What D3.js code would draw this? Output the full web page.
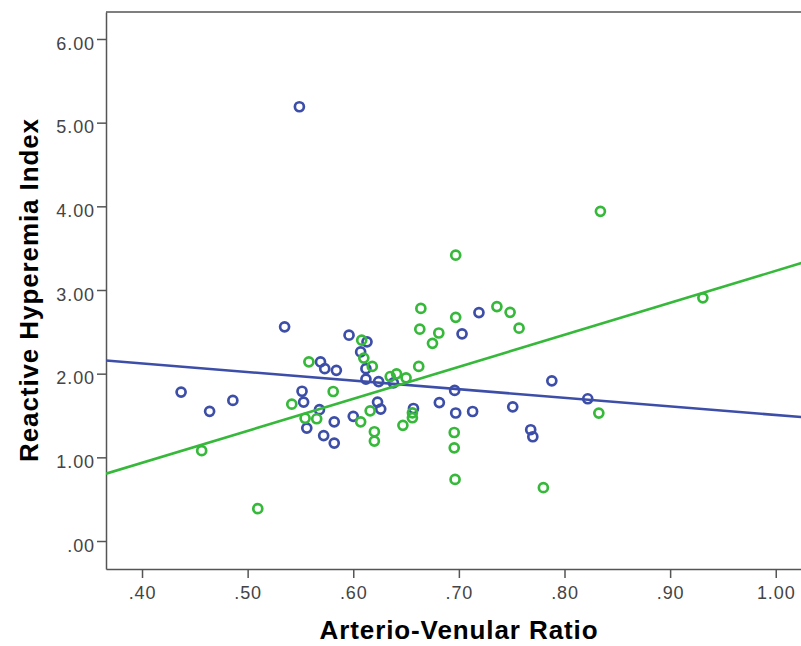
<!DOCTYPE html>
<html>
<head>
<meta charset="utf-8">
<script src="https://cdn.jsdelivr.net/npm/d3@7"></script>
<style>
  body { margin: 0; background: #fff; }
  svg { display: block; font-family: "Liberation Sans", Arial, sans-serif; }
  .tick text { fill: #444; font-size: 18px; letter-spacing: 0.9px; }
  .axis path, .axis line { stroke: #555; stroke-width: 1.5; }
  .title { font-weight: bold; font-size: 26px; fill: #000; letter-spacing: 0.9px; }
</style>
</head>
<body>
<div id="chart"></div>
<script>
// group 1 (blue)
var avrBlue = [0.549, 0.437, 0.464, 0.486, 0.535, 0.5515, 0.553, 0.556, 0.568, 0.572,
  0.582, 0.582, 0.569, 0.573, 0.584, 0.596, 0.613, 0.607, 0.612, 0.612,
  0.624, 0.638, 0.600, 0.623, 0.626, 0.657, 0.6815, 0.697, 0.696, 0.713,
  0.703, 0.719, 0.751, 0.768, 0.770, 0.788, 0.822];
var rhiBlue = [5.19, 1.78, 1.55, 1.68, 2.56, 1.79, 1.66, 1.35, 1.57, 1.26,
  1.425, 1.17, 2.14, 2.06, 2.04, 2.46, 2.38, 2.26, 2.06, 1.935,
  1.906, 1.89, 1.49, 1.66, 1.577, 1.584, 1.655, 1.53, 1.80, 1.548,
  2.476, 2.73, 1.604, 1.33, 1.246, 1.915, 1.70];

// group 2 (green)
var avrGreen = [0.4565, 0.5096, 0.5418, 0.5544, 0.5654, 0.558, 0.581, 0.608, 0.610, 0.618,
  0.607, 0.616, 0.620, 0.620, 0.635, 0.641, 0.650, 0.662, 0.656, 0.656,
  0.647, 0.664, 0.663, 0.681, 0.675, 0.697, 0.697, 0.736, 0.7485, 0.757,
  0.6956, 0.6956, 0.6964, 0.780, 0.834, 0.8325, 0.931];
var rhiGreen = [1.08, 0.386, 1.636, 1.467, 1.461, 2.142, 1.787, 2.40, 2.186, 2.086,
  1.425, 1.556, 1.306, 1.194, 1.966, 1.998, 1.95, 2.086, 1.532, 1.473,
  1.383, 2.78, 2.532, 2.486, 2.363, 2.673, 3.416, 2.802, 2.733, 2.544,
  1.297, 1.114, 0.736, 0.637, 3.94, 1.529, 2.906];

// linear fit lines: [intercept, slope]
var fitBlue = [2.533, -1.027];
var fitGreen = [-0.595, 3.824];

var xTicks = [0.40, 0.50, 0.60, 0.70, 0.80, 0.90, 1.00];
var yTicks = [0, 1, 2, 3, 4, 5, 6];
var xLabel = "Arterio-Venular Ratio";
var yLabel = "Reactive Hyperemia Index";

var blueColor = "#3d4ea8";
var greenColor = "#36b83a";

var svgWidth = 801, svgHeight = 646;
var margin = {top: 12, left: 106, bottom: 77};
var plotRight = 820;

var svg = d3.select("#chart").append("svg")
  .attr("width", svgWidth)
  .attr("height", svgHeight);

var x = d3.scaleLinear()
  .domain([0.3659, 1.0419])
  .range([margin.left, plotRight]);
var y = d3.scaleLinear()
  .domain([-0.3345, 6.3225])
  .range([svgHeight - margin.bottom, margin.top]);

var fmt = function(d) { return d3.format(".2f")(d).replace(/^0\./, "."); };

svg.append("defs").append("clipPath").attr("id", "plotclip")
  .append("rect")
  .attr("x", margin.left).attr("y", margin.top)
  .attr("width", plotRight - margin.left)
  .attr("height", svgHeight - margin.bottom - margin.top);

// top frame line
svg.append("line")
  .attr("x1", margin.left).attr("x2", plotRight)
  .attr("y1", margin.top).attr("y2", margin.top)
  .attr("stroke", "#555").attr("stroke-width", 1.5);

var xAxis = svg.append("g")
  .attr("class", "axis")
  .attr("transform", "translate(0," + (svgHeight - margin.bottom) + ")")
  .call(d3.axisBottom(x).tickValues(xTicks).tickFormat(fmt).tickSize(9).tickPadding(8).tickSizeOuter(0));

var yAxis = svg.append("g")
  .attr("class", "axis")
  .attr("transform", "translate(" + margin.left + ",0)")
  .call(d3.axisLeft(y).tickValues(yTicks).tickFormat(fmt).tickSize(9).tickPadding(2).tickSizeOuter(0));
yAxis.selectAll(".tick text").attr("dy", "0.57em");
svg.selectAll(".axis .domain").attr("stroke", "#555");

var plot = svg.append("g").attr("clip-path", "url(#plotclip)");

function drawPoints(xs, ys, color) {
  plot.append("g").selectAll("circle")
    .data(xs)
    .enter().append("circle")
    .attr("cx", function(d) { return x(d); })
    .attr("cy", function(d, i) { return y(ys[i]); })
    .attr("r", 4.5)
    .attr("fill", "none")
    .attr("stroke", color)
    .attr("stroke-width", 2.7);
}

function drawFit(fit, color) {
  var xd = x.domain();
  var line = d3.line()
    .x(function(d) { return x(d); })
    .y(function(d) { return y(fit[0] + fit[1] * d); });
  plot.append("path")
    .datum(xd)
    .attr("d", line)
    .attr("fill", "none")
    .attr("stroke", color)
    .attr("stroke-width", 2.6);
}

drawPoints(avrBlue, rhiBlue, blueColor);
drawPoints(avrGreen, rhiGreen, greenColor);
drawFit(fitBlue, blueColor);
drawFit(fitGreen, greenColor);

// axis titles
svg.append("text")
  .attr("class", "title")
  .attr("x", 459)
  .attr("y", 639)
  .attr("text-anchor", "middle")
  .text(xLabel);

svg.append("text")
  .attr("class", "title")
  .attr("transform", "translate(38,290) rotate(-90)")
  .attr("text-anchor", "middle")
  .text(yLabel);
</script>
</body>
</html>
